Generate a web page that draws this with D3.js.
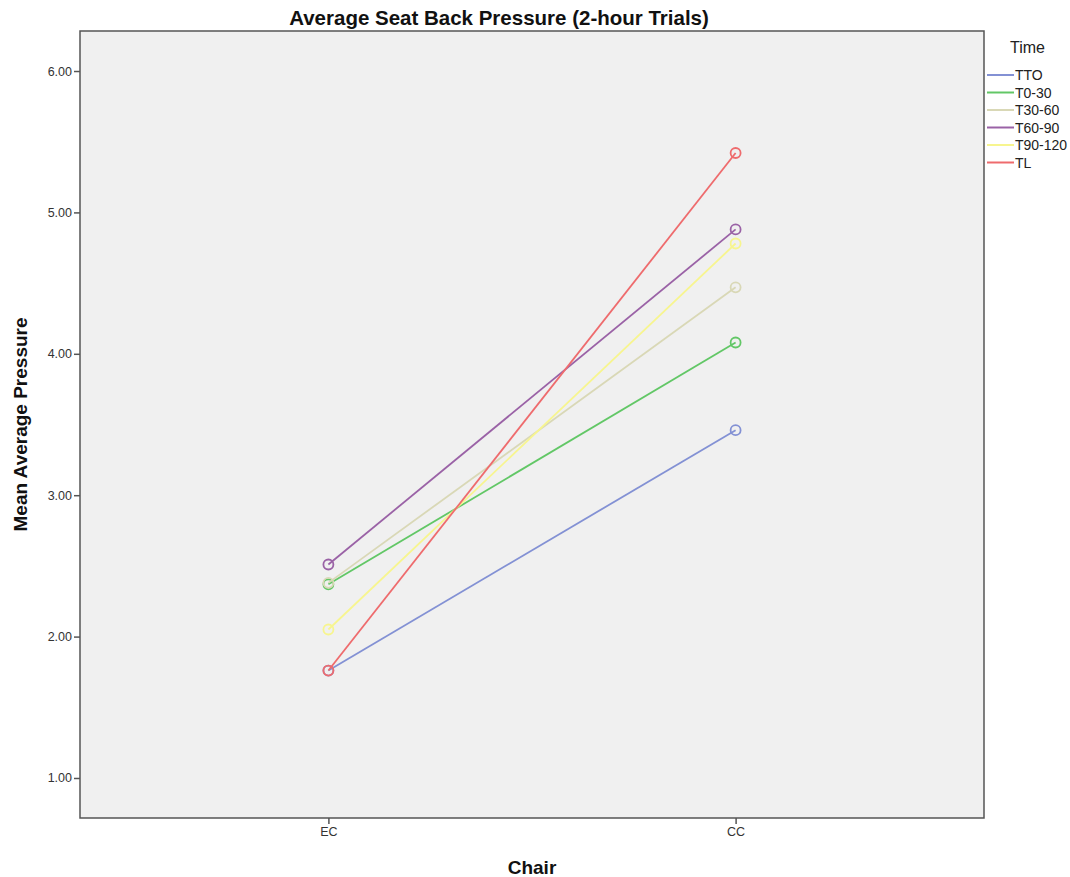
<!DOCTYPE html>
<html>
<head>
<meta charset="utf-8">
<script src="https://cdn.jsdelivr.net/npm/d3@7"></script>
<style>
  body { margin: 0; background: #fff; }
  text { font-family: "Liberation Sans", Arial, sans-serif; }
</style>
</head>
<body>
<script>
// chairs on the x axis
const chairs = ["EC", "CC"];
// time series names (legend order)
const times = ["TTO", "T0-30", "T30-60", "T60-90", "T90-120", "TL"];
// mean average pressure per time, [EC, CC]
const valTTO = [1.76, 3.46];
const valT0_30 = [2.37, 4.08];
const valT30_60 = [2.38, 4.47];
const valT60_90 = [2.51, 4.88];
const valT90_120 = [2.05, 4.78];
const valTL = [1.76, 5.42];
const yTicks = [1, 2, 3, 4, 5, 6];

const seriesValues = [valTTO, valT0_30, valT30_60, valT60_90, valT90_120, valTL];
const colors = ["#8391d4", "#62c766", "#d9d8b6", "#9a62a6", "#f7f58f", "#ee6b6d"];

const width = 1070;
const height = 877;
const plot = { left: 80, top: 31, right: 984, bottom: 818 };

const svg = d3.select("body").append("svg").attr("width", width).attr("height", height);

const xScale = d3.scalePoint()
  .domain(chairs)
  .range([plot.left, plot.right])
  .padding(0.61);

const yScale = d3.scaleLinear()
  .domain([0.717, 6.283])
  .range([plot.bottom, plot.top]);

// plot background
svg.append("rect")
  .attr("x", plot.left).attr("y", plot.top)
  .attr("width", plot.right - plot.left).attr("height", plot.bottom - plot.top)
  .attr("fill", "#f0f0f0")
  .attr("stroke", "#555").attr("stroke-width", 1.5);

/** axes */
const axisx = d3.axisBottom(xScale).tickSize(6).tickPadding(3);
const axisy = d3.axisLeft(yScale).tickValues(yTicks).tickFormat(d3.format(".2f")).tickSize(6).tickPadding(2);

const gx = svg.append("g")
  .attr("transform", "translate(0," + plot.bottom + ")")
  .call(axisx);
const gy = svg.append("g")
  .attr("transform", "translate(" + plot.left + ",0)")
  .call(axisy);

[gx, gy].forEach(g => {
  g.select(".domain").remove();
  g.selectAll(".tick line").attr("stroke", "#555").attr("stroke-width", 1.5);
  g.selectAll(".tick text").attr("fill", "#333").style("font-size", "12.5px");
});

/** lines and markers */
const line = d3.line()
  .x((d, i) => xScale(chairs[i]))
  .y(d => yScale(d));

const series = svg.append("g").selectAll("g")
  .data(seriesValues)
  .enter()
  .append("g");

series.append("path")
  .attr("d", d => line(d))
  .attr("fill", "none")
  .attr("stroke", (d, i) => colors[i])
  .attr("stroke-width", 1.8);

series.each(function (vals, si) {
  d3.select(this).selectAll("circle")
    .data(vals)
    .enter()
    .append("circle")
    .attr("cx", (d, i) => xScale(chairs[i]))
    .attr("cy", d => yScale(d))
    .attr("r", 5)
    .attr("fill", "none")
    .attr("stroke", colors[si])
    .attr("stroke-width", 1.8);
});

/** titles */
svg.append("text")
  .attr("x", 499).attr("y", 25)
  .attr("text-anchor", "middle")
  .style("font-size", "20.5px").style("font-weight", "bold")
  .attr("fill", "#111")
  .text("Average Seat Back Pressure (2-hour Trials)");

svg.append("text")
  .attr("x", 532).attr("y", 874)
  .attr("text-anchor", "middle")
  .style("font-size", "19px").style("font-weight", "bold")
  .attr("fill", "#111")
  .text("Chair");

svg.append("text")
  .attr("transform", "translate(27," + (plot.top + plot.bottom) / 2 + ") rotate(-90)")
  .attr("text-anchor", "middle")
  .style("font-size", "19px").style("font-weight", "bold")
  .attr("fill", "#111")
  .text("Mean Average Pressure");

/** legend */
const legend = svg.append("g").attr("transform", "translate(987,0)");
legend.append("text")
  .attr("x", 23).attr("y", 53)
  .style("font-size", "16px")
  .attr("fill", "#222")
  .text("Time");

const items = legend.selectAll(".item")
  .data(times)
  .enter()
  .append("g")
  .attr("class", "item")
  .attr("transform", (d, i) => "translate(0," + (75 + i * 17.5) + ")");

items.append("line")
  .attr("x1", 0).attr("x2", 27)
  .attr("stroke", (d, i) => colors[i])
  .attr("stroke-width", 2);

items.append("text")
  .attr("x", 28).attr("y", 5)
  .style("font-size", "14px")
  .attr("fill", "#222")
  .text(d => d);
</script>
</body>
</html>
